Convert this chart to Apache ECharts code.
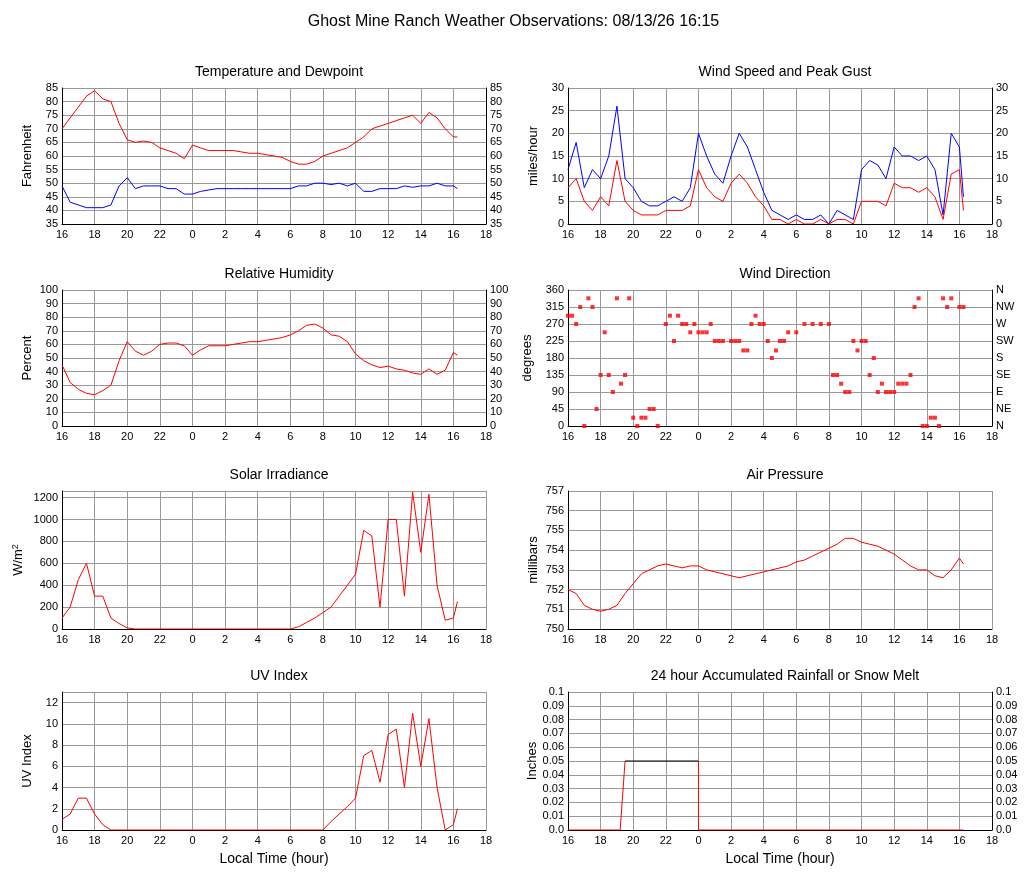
<!DOCTYPE html>
<html><head><meta charset="utf-8">
<script src="https://cdn.jsdelivr.net/npm/echarts@6/dist/echarts.min.js"></script>
<style>html,body{margin:0;padding:0;background:#fff}#c{width:1027px;height:878px}</style>
</head><body><div id="c"></div>
<script>
// values at half-hour steps starting 16:00, last value at 16:15 next day
const temperature=[70,74,78,82,84,81,80,72,66,65,65.5,65,63,62,61,59,64,63,62,62,62,62,61.5,61,61,60.5,60,59.5,58,57,57,58,60,61,62,63,65,67,70,71,72,73,74,75,72,76,74,70,67,67];
const dewpoint=[49,43,42,41,41,41,42,49,52,48,49,49,49,48,48,46,46,47,47.5,48,48,48,48,48,48,48,48,48,48,49,49,50,50,49.5,50,49,50,47,47,48,48,48,49,48.5,49,49,50,49,49,48];
const windGust=[12,18,8,12,10,15,26,10,8,5,4,4,5,6,5,8,20,15,11,9,15,20,17,12,7,3,2,1,2,1,1,2,0,3,2,1,12,14,13,10,17,15,15,14,15,12,2,20,17,6];
const windSpeed=[8,10,5,3,6,4,14,5,3,2,2,2,3,3,3,4,12,8,6,5,9,11,9,6,4,1,1,0,1,0,0,1,0,1,1,0,5,5,5,4,9,8,8,7,8,6,1,11,12,3];
const humidity=[45,32,27,24,23,26,30,48,62,55,52,55,60,61,61,59,52,56,59,59,59,60,61,62,62,63,64,65,67,70,74,75,72,67,66,62,53,48,45,43,44,42,41,39,38,42,38,41,54,52];
const pressure=[752,751.8,751.2,751,750.9,751,751.2,751.8,752.3,752.8,753,753.2,753.3,753.2,753.1,753.2,753.2,753,752.9,752.8,752.7,752.6,752.7,752.8,752.9,753,753.1,753.2,753.4,753.5,753.7,753.9,754.1,754.3,754.6,754.6,754.4,754.3,754.2,754,753.8,753.5,753.2,753,753,752.7,752.6,753,753.6,753.3];
const solar=[100,200,450,600,300,300,100,50,10,0,0,0,0,0,0,0,0,0,0,0,0,0,0,0,0,0,0,0,0,20,60,100,150,200,300,400,500,900,850,200,1000,1000,300,1250,700,1230,400,80,100,250];
const uvIndex=[1,1.5,3,3,1.5,0.5,0,0,0,0,0,0,0,0,0,0,0,0,0,0,0,0,0,0,0,0,0,0,0,0,0,0,0,0.8,1.5,2.2,3,7,7.5,4.5,9,9.5,4,11,6,10.5,4,0,0.5,2];
const rainRise=[[0,0],[3.2,0],[3.5,0.05]];
const rainTop=[[3.5,0.05],[8,0.05]];
const rainAfter=[[8,0.05],[8,0],[24.25,0]];
const windDir=[[0,292],[0.25,292],[0.5,270],[0.75,315],[1,0],[1.25,338],[1.5,315],[1.75,45],[2,135],[2.25,248],[2.5,135],[2.75,90],[3,338],[3.25,112],[3.5,135],[3.75,338],[4,22],[4.25,0],[4.5,22],[4.75,22],[5,45],[5.25,45],[5.5,0],[6,270],[6.25,292],[6.5,225],[6.75,292],[7,270],[7.25,270],[7.5,248],[7.75,270],[8,248],[8.25,248],[8.5,248],[8.75,270],[9,225],[9.25,225],[9.5,225],[10,225],[10.25,225],[10.5,225],[10.75,200],[11,200],[11.25,270],[11.5,292],[11.75,270],[12,270],[12.25,225],[12.5,180],[12.75,200],[13,225],[13.25,225],[13.5,248],[14,248],[14.5,270],[15,270],[15.5,270],[16,270],[16.25,135],[16.5,135],[16.75,112],[17,90],[17.25,90],[17.5,225],[17.75,200],[18,225],[18.25,225],[18.5,135],[18.75,180],[19,90],[19.25,112],[19.5,90],[19.75,90],[20,90],[20.25,112],[20.5,112],[20.75,112],[21,135],[21.25,315],[21.5,338],[21.75,0],[22,0],[22.25,22],[22.5,22],[22.75,0],[23,338],[23.25,315],[23.5,338],[24,315],[24.25,315]];
const dirLabels=['N','NE','E','SE','S','SW','W','NW','N'];

const t=i=>i<49?i*0.5:24.25;
const pts=a=>a.map((v,i)=>[t(i),v]);
const font='Liberation Sans';
const col=[62,568], rowTop=[88,290,491,692], rowH=[136,136,138,138], W=424;
const panels=[
 {c:0,r:0,title:'Temperature and Dewpoint',name:'Fahrenheit',min:35,max:85,int:5,right:true},
 {c:1,r:0,title:'Wind Speed and Peak Gust',name:'miles/hour',min:0,max:30,int:5,right:true},
 {c:0,r:1,title:'Relative Humidity',name:'Percent',min:0,max:100,int:10,right:true},
 {c:1,r:1,title:'Wind Direction',name:'degrees',min:0,max:360,int:45,right:true,dir:true},
 {c:0,r:2,title:'Solar Irradiance',name:'W/m{sup|2}',min:0,max:1260,int:200},
 {c:1,r:2,title:'Air Pressure',name:'millibars',min:750,max:757,int:1},
 {c:0,r:3,title:'UV Index',name:'UV Index',min:0,max:13,int:2},
 {c:1,r:3,title:'24 hour Accumulated Rainfall or Snow Melt',name:'Inches',min:0,max:0.1,int:0.01,right:true},
];
const grid=[],xAxis=[],yAxis=[],title=[{text:'Ghost Mine Ranch Weather Observations: 08/13/26 16:15',left:'center',top:9,textStyle:{fontFamily:font,fontSize:16,fontWeight:'normal',color:'#000'}}];
panels.forEach((p,i)=>{
 const L=col[p.c],T=rowTop[p.r],H=rowH[p.r];
 grid.push({left:L,top:T,width:W,height:H});
 title.push({text:p.title,left:L+W/2,top:T-28,textAlign:'center',textStyle:{fontFamily:font,fontSize:14,fontWeight:'normal',color:'#000'}});
 xAxis.push({type:'value',gridIndex:i,min:0,max:26,interval:2,
  name:p.r===3?'Local Time (hour)':'',nameLocation:'middle',nameGap:22,nameTextStyle:{fontFamily:font,fontSize:14,color:'#000'},
  axisLine:{lineStyle:{color:'#000'}},axisTick:{show:false},
  axisLabel:{fontFamily:font,fontSize:11,color:'#000',margin:5,formatter:v=>String((16+v)%24)},
  splitLine:{show:true,lineStyle:{color:'#999'}}});
 const base={type:'value',gridIndex:i,min:p.min,max:p.max,interval:p.int,axisTick:{show:false},
  axisLine:{show:true,lineStyle:{color:'#000'}},
  axisLabel:{fontFamily:font,fontSize:11,color:'#000',margin:4,showMaxLabel:Math.abs(p.max/p.int-Math.round(p.max/p.int))<1e-6,
   formatter:v=>p.int<1?(v===0?'0.0':String(+v.toFixed(2))):String(v)}};
 yAxis.push(Object.assign({},base,{position:'left',name:p.name,nameLocation:'middle',nameGap:p.dir?34:(p.max>=1000?36:28),
  nameTextStyle:{fontFamily:font,fontSize:13,color:'#000',rich:{sup:{fontSize:9,verticalAlign:'top',padding:[0,0,6,0]}}},
  splitLine:{show:true,lineStyle:{color:'#999'}}}));
 p.yl=yAxis.length-1;
 if(p.right){
  yAxis.push(Object.assign({},base,{position:'right',splitLine:{show:false},
   axisLabel:Object.assign({},base.axisLabel,p.dir?{formatter:v=>dirLabels[Math.round(v/45)]}:{})}));
 }
});
const ln=(gi,data,color)=>({type:'line',xAxisIndex:gi,yAxisIndex:panels[gi].yl,data,showSymbol:false,symbol:'none',lineStyle:{color,width:1},animation:false});
const series=[
 ln(0,pts(temperature),'#f00'),ln(0,pts(dewpoint),'#00f'),
 ln(1,pts(windGust),'#00f'),ln(1,pts(windSpeed),'#f00'),
 ln(2,pts(humidity),'#f00'),
 {type:'scatter',xAxisIndex:3,yAxisIndex:panels[3].yl,data:windDir,symbol:'rect',symbolSize:4,itemStyle:{color:'#f00'},animation:false},
 ln(4,pts(solar),'#f00'),ln(5,pts(pressure),'#f00'),ln(6,pts(uvIndex),'#f00'),
 ln(7,rainRise,'#f00'),ln(7,rainTop,'#000'),ln(7,rainAfter,'#f00'),
];
const ch=echarts.init(document.getElementById('c'));
ch.setOption({backgroundColor:'#fff',animation:false,title,grid,xAxis,yAxis,series});
</script></body></html>
